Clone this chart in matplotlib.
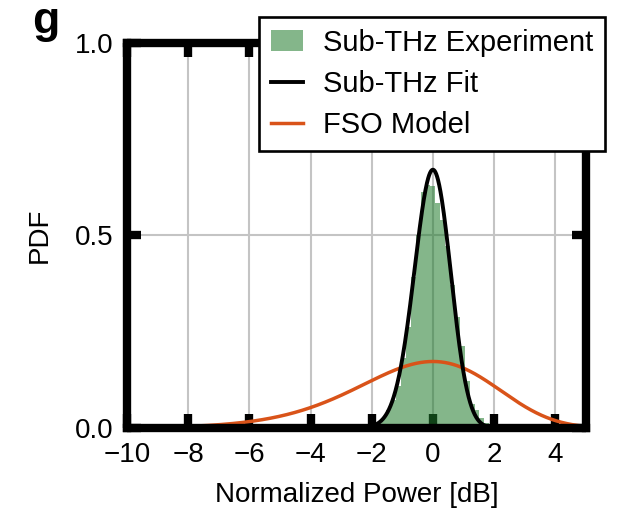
import math
import numpy as np
import matplotlib
matplotlib.use("Agg")
import matplotlib.pyplot as plt

# measured received-power histogram (normalised to unit area), dB
BIN_WIDTH = 0.16
bin_centers = [-1.92, -1.76, -1.60, -1.44, -1.28, -1.12, -0.96, -0.80, -0.64,
               -0.48, -0.32, -0.16, 0.00, 0.16, 0.32, 0.48, 0.64, 0.80,
               0.96, 1.12, 1.28, 1.44, 1.60, 1.76, 1.92]
bin_pdf = [0.006, 0.014, 0.028, 0.046, 0.072, 0.108, 0.182, 0.262, 0.392,
           0.500, 0.612, 0.630, 0.628, 0.585, 0.540, 0.472, 0.372, 0.288,
           0.214, 0.122, 0.062, 0.046, 0.026, 0.012, 0.004]

# gamma-distributed intensity, shape parameter k, shown in dB
K_SUBTHZ_FIT = 53.5
K_FSO_MODEL = 3.7

X_TICKS = [-10, -8, -6, -4, -2, 0, 2, 4]
Y_TICKS = [0.0, 0.5, 1.0]

GREEN = "#1f7a2b"
ORANGE = "#D95319"


def gamma_pdf_db(x_db, k):
    """pdf of 10*log10(I) for I ~ Gamma(k, 1/k) (unit mean)"""
    I = 10.0 ** (x_db / 10.0)
    log_f = k * math.log(k) + k * np.log(I) - k * I - math.lgamma(k)
    return (math.log(10) / 10.0) * np.exp(log_f)


plt.rcParams["font.family"] = ["Liberation Sans", "DejaVu Sans"]
plt.rcParams["axes.unicode_minus"] = True

fig = plt.figure(figsize=(6.18, 5.21), dpi=100)
ax = fig.add_axes([0.2055, 0.1785, 0.7425, 0.739])

ax.set_axisbelow(True)
ax.grid(True, color="#c4c4c4", linewidth=1.5)

h_exp = ax.bar(bin_centers, bin_pdf, width=BIN_WIDTH, color=GREEN, alpha=0.55,
               linewidth=0, zorder=1, label="Sub-THz Experiment")

x = np.linspace(-10, 5, 1500)
h_fit, = ax.plot(x, gamma_pdf_db(x, K_SUBTHZ_FIT), color="black",
                 linewidth=2.8, zorder=3, label="Sub-THz Fit")
h_fso, = ax.plot(x, gamma_pdf_db(x, K_FSO_MODEL), color=ORANGE,
                 linewidth=2.5, zorder=2, label="FSO Model")

ax.set_xlim(-10, 5)
ax.set_ylim(0, 1.0)
ax.set_xticks(X_TICKS)
ax.set_yticks(Y_TICKS)
ax.set_yticklabels([f"{v:.1f}" for v in Y_TICKS])

for side in ax.spines.values():
    side.set_linewidth(6)
ax.tick_params(direction="in", length=10, width=6, labelsize=20, pad=10,
               top=True, right=True, color="black")

ax.set_xlabel("Normalized Power [dB]", fontsize=20, labelpad=10)
ax.set_ylabel("PDF", fontsize=20, labelpad=16)

leg = ax.legend([h_exp, h_fit, h_fso],
                ["Sub-THz Experiment", "Sub-THz Fit", "FSO Model"],
                loc="upper right", bbox_to_anchor=(0.979, 0.967),
                bbox_transform=fig.transFigure, borderaxespad=0,
                fontsize=21, frameon=True, fancybox=False, framealpha=1,
                edgecolor="black", handlelength=1.1, handletextpad=0.7,
                labelspacing=0.45, borderpad=0.4)
leg.get_frame().set_linewidth(1.9)
leg.set_zorder(10)

fig.text(0.052, 0.937, "g", fontsize=32, fontweight="bold")

fig.savefig("out.png", dpi=100)
